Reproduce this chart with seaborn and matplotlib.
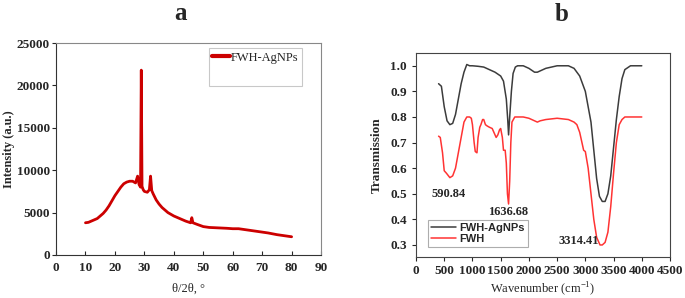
import numpy as np
import pandas as pd
import matplotlib
matplotlib.use("Agg")
import matplotlib.pyplot as plt
from matplotlib.lines import Line2D
import seaborn as sns

# XRD pattern (panel a)
xrd_theta = [10, 11, 12, 13, 14, 15, 16, 17, 18, 19, 20, 21, 22, 23, 24, 25, 26, 27, 27.7, 28.2,
             28.7, 28.95, 29.2, 29.6, 30, 31, 31.7, 32.1, 32.5, 33, 34, 35, 36, 37, 38, 40, 42,
             44, 45.7, 46.1, 46.5, 48, 50, 52, 55, 58, 60, 62, 65, 68, 70, 72, 75, 78, 80]
xrd_intensity = [3800, 3850, 4000, 4150, 4300, 4600, 4900, 5300, 5800, 6400, 7000, 7500, 8000, 8400, 8600, 8700, 8700, 8500, 9300, 8300,
                 8000, 21800, 8100, 7700, 7500, 7400, 7700, 9300, 7600, 7200, 6500, 6000, 5600, 5300, 5000, 4600, 4300,
                 4000, 3800, 4400, 3800, 3600, 3350, 3250, 3200, 3150, 3100, 3100, 2950, 2800, 2700, 2600, 2400, 2250, 2150]

# FTIR spectra (panel b)
ag_wn = [400, 450, 500, 550, 600, 650, 700, 750, 800, 850, 900, 950, 1000, 1100, 1200, 1300, 1400, 1500, 1550,
         1600, 1625, 1640, 1660, 1690, 1720, 1760, 1800, 1900, 2000, 2100, 2150, 2200, 2300, 2500, 2700, 2800,
         2900, 3000, 3100, 3150, 3200, 3250, 3300, 3350, 3400, 3450, 3500, 3550, 3600, 3650, 3700, 3800, 4000]
ag_tr = [0.93, 0.92, 0.84, 0.785, 0.77, 0.775, 0.81, 0.87, 0.93, 0.975, 1.005, 1.0, 1.0, 0.998, 0.995, 0.985, 0.975, 0.96, 0.94,
         0.87, 0.79, 0.73, 0.8, 0.9, 0.97, 0.995, 1.0, 1.0, 0.99, 0.975, 0.975, 0.98, 0.99, 1.0, 1.0, 0.99,
         0.96, 0.9, 0.78, 0.67, 0.56, 0.49, 0.47, 0.47, 0.5, 0.57, 0.68, 0.79, 0.88, 0.95, 0.985, 1.0, 1.0]

fwh_wn = [400, 430, 470, 500, 540, 600, 650, 700, 750, 800, 850, 900, 950, 980, 1000, 1030, 1050, 1080, 1100,
          1130, 1150, 1180, 1200, 1230, 1260, 1300, 1350, 1400, 1420, 1450, 1480, 1500, 1530, 1550, 1580, 1600,
          1620, 1640, 1660, 1680, 1700, 1750, 1900, 2000, 2100, 2150, 2200, 2300, 2500, 2700, 2800, 2850, 2900,
          2950, 2970, 3000, 3050, 3100, 3150, 3200, 3260, 3300, 3350, 3400, 3450, 3500, 3550, 3600, 3650, 3700, 4000]
fwh_tr = [0.725, 0.72, 0.66, 0.59, 0.58, 0.563, 0.57, 0.6, 0.66, 0.72, 0.78, 0.8, 0.8, 0.795, 0.77, 0.7, 0.665, 0.66, 0.72,
          0.76, 0.77, 0.79, 0.79, 0.77, 0.765, 0.76, 0.755, 0.73, 0.72, 0.73, 0.75, 0.755, 0.72, 0.67, 0.67, 0.62,
          0.5, 0.46, 0.55, 0.7, 0.78, 0.8, 0.8, 0.795, 0.785, 0.78, 0.785, 0.79, 0.795, 0.79, 0.78, 0.77, 0.74,
          0.69, 0.67, 0.665, 0.6, 0.5, 0.4, 0.33, 0.3, 0.3, 0.31, 0.35, 0.45, 0.58, 0.7, 0.77, 0.79, 0.8, 0.8]

peak_labels = ["590.84", "1636.68", "3314.41"]
peak_x = [570, 1640, 2880]
peak_y = [0.50, 0.428, 0.316]

sns.set_style("ticks")
plt.rcParams['font.family'] = ['Liberation Serif', 'DejaVu Serif']
plt.rcParams['mathtext.fontset'] = 'custom'
plt.rcParams['mathtext.rm'] = 'Liberation Serif'

fig = plt.figure(figsize=(6.85, 2.98), dpi=100)
ax1 = fig.add_axes([0.0818, 0.1443, 0.3869, 0.7114])
ax2 = fig.add_axes([0.6073, 0.1376, 0.3708, 0.6846])

# panel a
df_a = pd.DataFrame({'theta': xrd_theta, 'I': xrd_intensity})
sns.lineplot(data=df_a, x='theta', y='I', ax=ax1, color='#cc0000', lw=2.0, label='FWH-AgNPs')
ax1.set_xlim(0, 90)
ax1.set_ylim(0, 25000)
ax1.set_xticks(range(0, 91, 10))
ax1.set_yticks(range(0, 25001, 5000))
ax1.tick_params(axis='x', direction='in', length=3, labelsize=9.5, pad=5)
ax1.tick_params(axis='y', direction='out', length=3, labelsize=9.5, pad=1.5)
for lab in ax1.get_xticklabels() + ax1.get_yticklabels():
    lab.set_fontweight('bold')
ax1.set_xlabel('θ/2θ, °', fontsize=9, labelpad=6)
ax1.set_ylabel('Intensity (a.u.)', fontsize=9, fontweight='bold', labelpad=1)
for s in ['top', 'right']:
    ax1.spines[s].set_color('#888888')
for s in ['left', 'bottom']:
    ax1.spines[s].set_color('#333333')
handles, labels = ax1.get_legend_handles_labels()
handles.append(Line2D([], [], color='none'))
labels.append(' ')
leg = ax1.legend(handles, labels, loc='upper right', bbox_to_anchor=(0.928, 0.976), fontsize=9,
                 frameon=True, fancybox=False, handlelength=1.4, handletextpad=0.05,
                 borderpad=0.3, labelspacing=0.5, borderaxespad=0)
leg.get_lines()[0].set_linewidth(3)
leg.get_frame().set_edgecolor('#bbbbbb')
leg.get_frame().set_linewidth(0.8)
fig.text(0.263, 0.955, 'a', fontsize=18, fontweight='bold', ha='center', va='center')

# panel b
df_b = pd.concat([
    pd.DataFrame({'wn': ag_wn, 'T': ag_tr, 'sample': 'FWH-AgNPs'}),
    pd.DataFrame({'wn': fwh_wn, 'T': fwh_tr, 'sample': 'FWH'}),
])
sns.lineplot(data=df_b, x='wn', y='T', hue='sample', ax=ax2, lw=1.1,
             palette={'FWH-AgNPs': '#3c3c3c', 'FWH': '#ff3333'}, sort=False, estimator=None)
ax2.set_xlim(0, 4500)
ax2.set_ylim(0.253, 1.05)
ax2.set_xticks(range(0, 4501, 500))
ax2.set_yticks(np.arange(0.3, 1.01, 0.1))
ax2.set_yticklabels([f"{v:.1f}" for v in np.arange(0.3, 1.01, 0.1)])
ax2.tick_params(axis='both', direction='out', length=3, labelsize=9.5)
ax2.tick_params(axis='x', pad=3)
for lab in ax2.get_xticklabels() + ax2.get_yticklabels():
    lab.set_fontweight('bold')
ax2.set_xlabel('Wavenumber (cm$^{-1}$)', fontsize=9, labelpad=2)
ax2.set_ylabel('Transmission', fontsize=9.5, fontweight='bold', labelpad=5)
for s in ax2.spines.values():
    s.set_color('#444444')
for t, x, y in zip(peak_labels, peak_x, peak_y):
    ax2.text(x, y, t, fontsize=9, fontweight='bold', ha='center', va='center')
leg2 = ax2.legend(loc='lower left', bbox_to_anchor=(0.047, 0.049), frameon=True,
                  fancybox=False, handlelength=2.3, handletextpad=0.3, borderpad=0.25,
                  labelspacing=0.12, borderaxespad=0,
                  prop={'family': 'Liberation Sans', 'weight': 'bold', 'size': 8})
leg2.get_frame().set_edgecolor('#999999')
leg2.get_frame().set_linewidth(0.8)
fig.text(0.82, 0.95, 'b', fontsize=18, fontweight='bold', ha='center', va='center')

fig.savefig('out.png', dpi=100)
